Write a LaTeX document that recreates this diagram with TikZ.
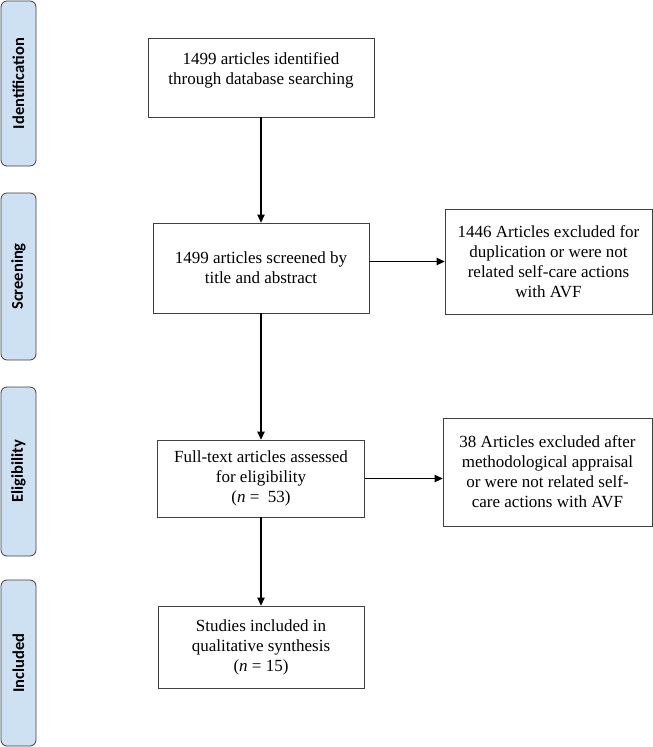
\documentclass[tikz,border=0pt]{standalone}
\usepackage{fontspec}
\setmainfont{Liberation Serif}
\newfontfamily\tabfont{Carlito}
\usetikzlibrary{arrows.meta}
\begin{document}
\begin{tikzpicture}[x=1pt,y=-1pt,
  box/.style={draw=black!75,line width=0.8pt,align=center,inner sep=0pt,
    font=\fontsize{17}{20}\selectfont},
  tab/.style={draw=black!75,fill=tabblue,line width=0.8pt,rounded corners=6pt,
    minimum width=35pt,inner sep=0pt},
  tablabel/.style={rotate=90,font=\tabfont\bfseries\fontsize{16.5}{18}\selectfont},
  arr/.style={line width=1.2pt,-{Triangle[length=8pt,width=7.5pt]}}]
\definecolor{tabblue}{HTML}{CEE1F2}
\useasboundingbox (0,0) rectangle (653,747);
% phase tabs
\node[tab,minimum height=165pt] (t1) at (18.5,83.5) {};
\node[tablabel] (l1) at (t1) {Identification};
\node[tab,minimum height=167pt] (t2) at (18.5,276.5) {};
\node[tablabel] (l2) at (t2) {Screening};
\node[tab,minimum height=169pt] (t3) at (18.5,471.5) {};
\node[tablabel] (l3) at (t3) {Eligibility};
\node[tab,minimum height=166pt] (t4) at (18.5,663) {};
\node[tablabel] (l4) at (t4) {Included};
% boxes
\node[box,minimum width=226pt,minimum height=79pt] (b1) at (261,77.5) {};
\node[box,draw=none] (b1t) at (261,70) {1499 articles identified\\through database searching};
\node[box,minimum width=216pt,minimum height=90pt] (b2) at (261,268) {1499 articles screened by\\title and abstract};
\node[box,minimum width=207pt,minimum height=105pt] (b3) at (548.5,261.5) {1446 Articles excluded for\\duplication or were not\\related self-care actions\\with AVF};
\node[box,minimum width=207pt,minimum height=77pt] (b4) at (261,478.5) {Full-text articles assessed\\for eligibility\\(\textit{n} =\ \ 53)};
\node[box,minimum width=209pt,minimum height=108pt] (b5) at (547.5,472) {38 Articles excluded after\\methodological appraisal\\or were not related self-\\care actions with AVF};
\node[box,minimum width=206pt,minimum height=82pt] (b6) at (261,647) {Studies included in\\qualitative synthesis\\(\textit{n} = 15)};
% connectors
\draw[arr] (b1.south) -- (b2.north);
\draw[arr] (b2.south) -- (b4.north);
\draw[arr] (b4.south) -- (b6.north);
\draw[arr] (b3.west -| b2.east) -- (b3.west);
\draw[arr] (b4.east) -- (b4.east -| b5.west);
\end{tikzpicture}
\end{document}
